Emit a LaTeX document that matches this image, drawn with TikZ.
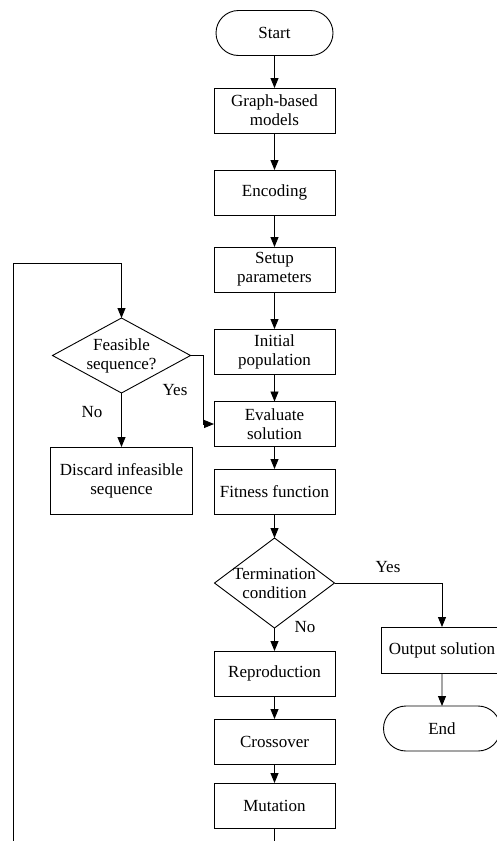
\documentclass[tikz,border=0pt]{standalone}
\usepackage{fontspec}
\setmainfont{Liberation Serif}
\usetikzlibrary{arrows.meta,shapes.geometric,shapes.misc}
\begin{document}
\begin{tikzpicture}[x=1pt,y=-1pt,
  every node/.style={font=\fontsize{17}{19}\selectfont, align=center},
  box/.style={draw, line width=0.9pt, minimum width=121pt, minimum height=45pt, inner sep=2pt, outer sep=0pt},
  stadium/.style={box, rounded rectangle},
  dia/.style={draw, line width=0.9pt, diamond, inner sep=0pt, outer sep=0pt},
  lbl/.style={inner sep=0pt},
  conn/.style={line width=0.9pt, -{Triangle[length=10pt,width=8pt]}},
  plain/.style={line width=0.9pt}]
\useasboundingbox (0,0) rectangle (496,841);

% main column
\node[stadium] (start) at (274.5,33) {Start};
\node[box] (gbm) at (274.5,110.5) {Graph-based\\models};
\node[box] (enc) at (274.5,192.5) {Encoding};
\node[box] (setup) at (274.5,269.5) {Setup\\parameters};
\node[box] (init) at (274.5,351.5) {Initial\\population};
\node[box] (eval) at (274.5,424) {Evaluate\\solution};
\node[box] (fit) at (274.5,491.5) {Fitness function};
\node[dia, minimum width=120pt, minimum height=90pt] (term) at (274.5,583) {};
\node[lbl] (termtxt) at (term) {Termination\\condition};
\node[box] (repro) at (274.5,673.5) {Reproduction};
\node[box] (cross) at (274.5,741.5) {Crossover};
\node[box] (mut) at (274.5,805.5) {Mutation};

% right column
\node[box, minimum height=46pt] (out) at (442,650) {Output solution};
\node[stadium] (endn) at (442,728.5) {End};

% left column
\node[dia, minimum width=138pt, minimum height=75pt] (feas) at (121.5,355.5) {};
\node[lbl] (feastxt) at (feas) {Feasible\\sequence?};
\node[box, minimum width=142pt, minimum height=67pt] (disc) at (121.5,480.5) {Discard infeasible\\sequence};

% helper coordinates
\coordinate (mutbot) at (274.5,845);
\coordinate (lbot) at (13,845);
\coordinate (ltop) at (13,263);
\coordinate (yesc) at (203,355.5);
\coordinate (yesd) at (203,424);

% connectors
\draw[conn] (start) -- (gbm);
\draw[conn] (gbm) -- (enc);
\draw[conn] (enc) -- (setup);
\draw[conn] (setup) -- (init);
\draw[conn] (init) -- (eval);
\draw[conn] (eval) -- (fit);
\draw[conn] (fit) -- (term);
\draw[conn] (term) -- (repro);
\draw[conn] (repro) -- (cross);
\draw[conn] (cross) -- (mut);
\draw[plain] (mut) -- (mutbot);
\draw[conn] (lbot) -- (ltop) -| (feas.north);
\draw[plain] (feas.east) -- (yesc) -- (yesd);
\draw[conn] (yesd) -- (eval.west);
\draw[conn] (feas.south) -- (disc.north);
\draw[conn] (term.east) -| (out.north);
\draw[conn] (out) -- (endn);

% labels
\node[lbl] (yes1) at (388,567) {Yes};
\node[lbl] (no1) at (305,627) {No};
\node[lbl] (yes2) at (175,390) {Yes};
\node[lbl] (no2) at (92,412) {No};
\end{tikzpicture}
\end{document}
